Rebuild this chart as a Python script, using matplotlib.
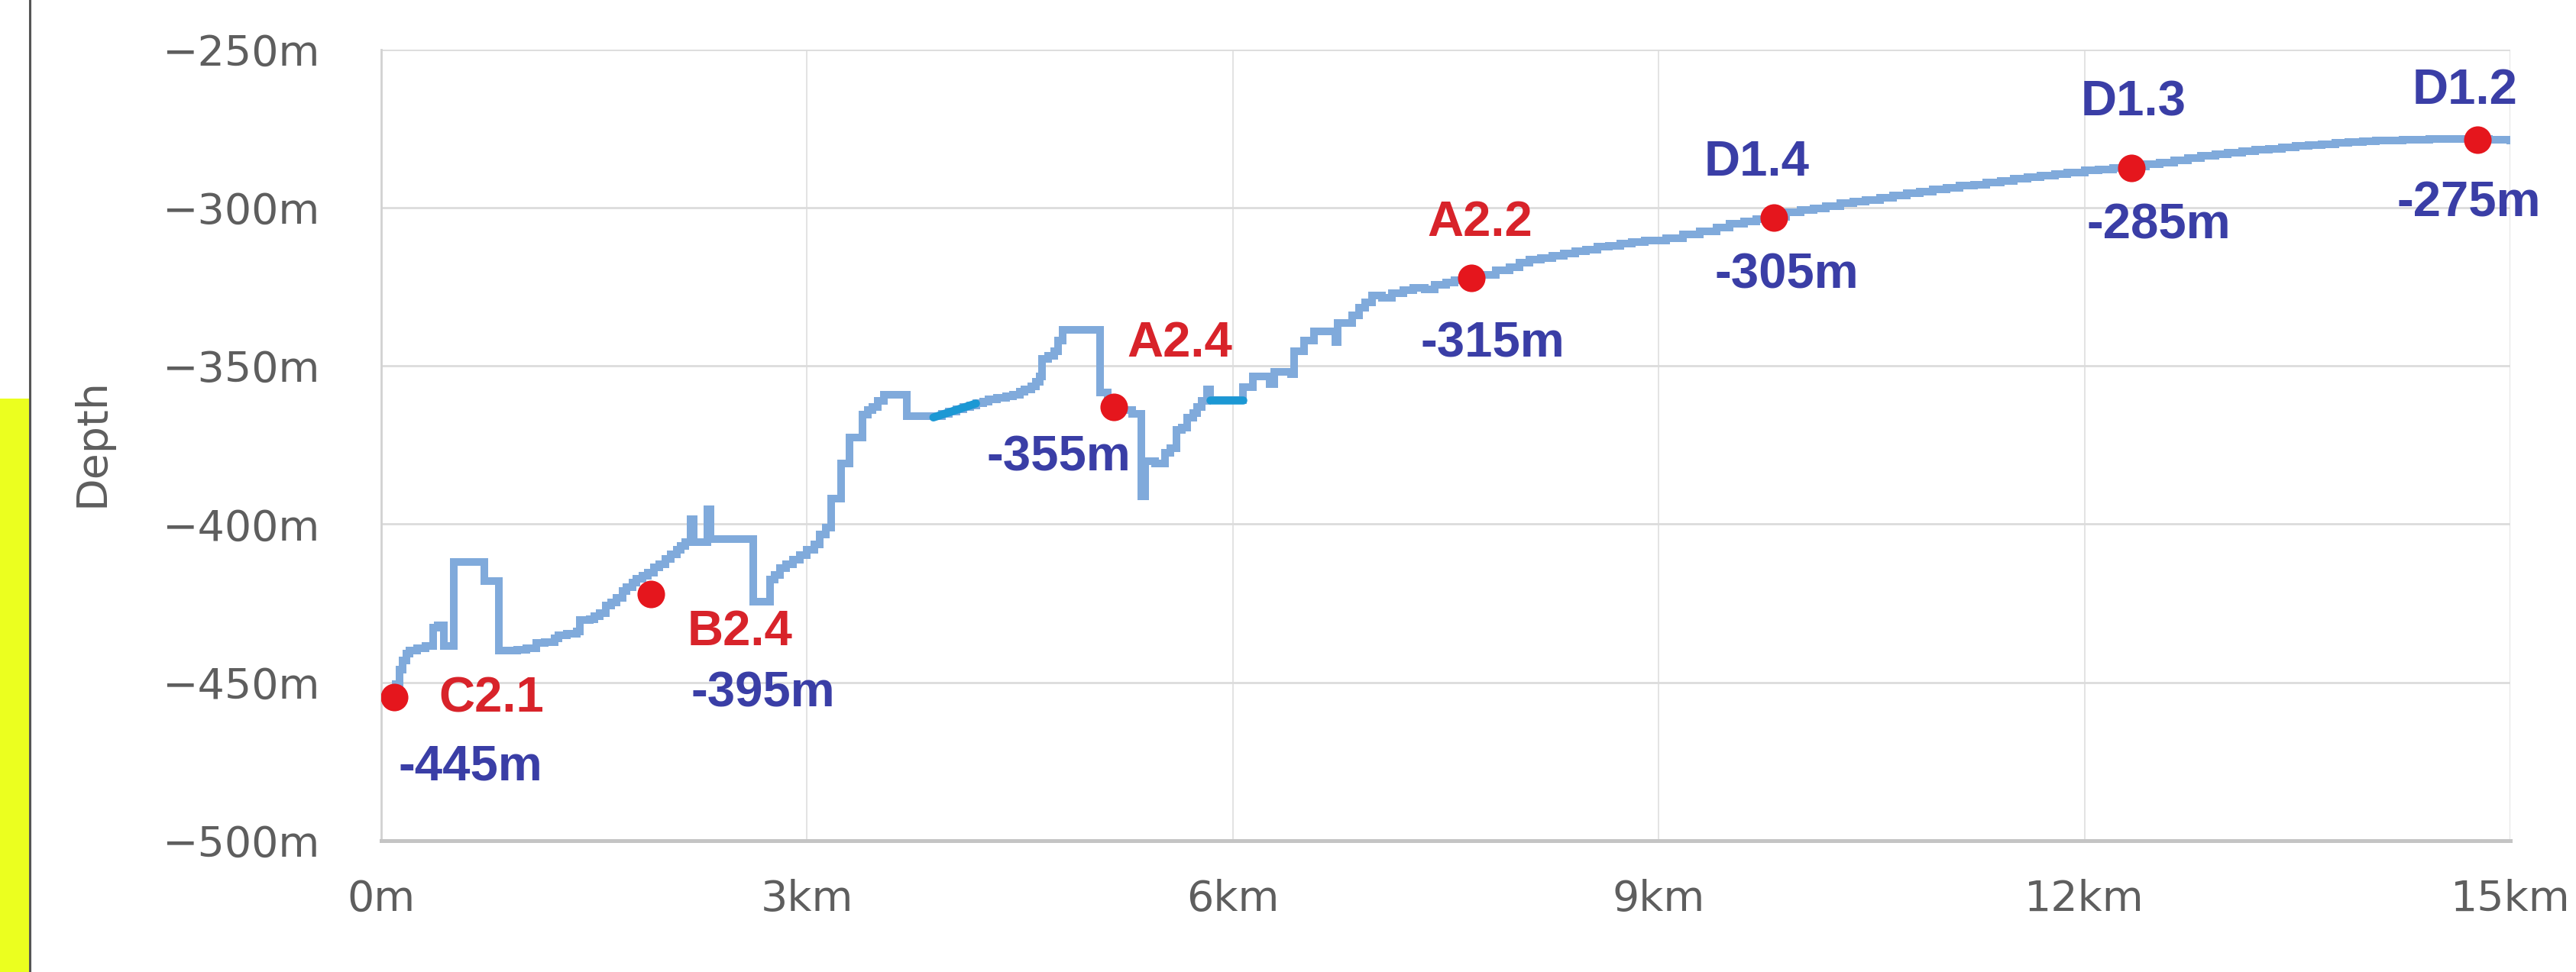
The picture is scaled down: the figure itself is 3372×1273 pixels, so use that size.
import matplotlib.pyplot as plt
from matplotlib.lines import Line2D
from matplotlib.patches import Rectangle

profile_km = [0.10, 0.13, 0.15, 0.18, 0.20, 0.25, 0.31, 0.365, 0.40, 0.44,
              0.51, 0.725, 0.83, 0.96, 1.02, 1.09, 1.15, 1.22, 1.25, 1.31,
              1.38, 1.40, 1.47, 1.50, 1.54, 1.58, 1.62, 1.66, 1.70, 1.73,
              1.77, 1.80, 1.84, 1.88, 1.92, 1.96, 2.00, 2.04, 2.08, 2.11,
              2.14, 2.18, 2.20, 2.30, 2.32, 2.62, 2.74, 2.77, 2.81, 2.85,
              2.90, 2.95, 3.00, 3.05, 3.09, 3.13, 3.17, 3.24, 3.30, 3.39,
              3.43, 3.46, 3.50, 3.54, 3.70, 3.89, 3.95, 4.00, 4.05, 4.10,
              4.15, 4.19, 4.24, 4.28, 4.34, 4.40, 4.45, 4.50, 4.53, 4.58,
              4.61, 4.64, 4.655, 4.70, 4.74, 4.77, 4.80, 5.067, 5.12, 5.20,
              5.29, 5.355, 5.38, 5.45, 5.52, 5.56, 5.60, 5.64, 5.68, 5.72,
              5.75, 5.78, 5.82, 5.84, 6.07, 6.09, 6.14, 6.26, 6.29, 6.41,
              6.43, 6.50, 6.57, 6.72, 6.74, 6.84, 6.89, 6.93, 6.98, 7.05,
              7.12, 7.20, 7.27, 7.35, 7.42, 7.50, 7.56, 7.65, 7.74, 7.85,
              7.95, 8.02, 8.09, 8.17, 8.25, 8.33, 8.41, 8.49, 8.57, 8.65,
              8.73, 8.81, 8.90, 9.05, 9.17, 9.29, 9.41, 9.50, 9.60, 9.69,
              9.80, 9.90, 10.00, 10.09, 10.18, 10.28, 10.37, 10.46, 10.56, 10.65,
              10.75, 10.84, 10.93, 11.03, 11.12, 11.22, 11.31, 11.41, 11.50, 11.60,
              11.69, 11.79, 11.88, 12.00, 12.10, 12.20, 12.33, 12.43, 12.53, 12.63,
              12.73, 12.82, 12.92, 13.01, 13.11, 13.20, 13.30, 13.39, 13.49, 13.58,
              13.67, 13.77, 13.86, 13.96, 14.05, 14.14, 14.24, 14.33, 14.43, 14.52,
              14.70, 14.85, 15.00]
profile_depth = [-450.5, -446.0, -443.0, -441.0, -440.0, -439.2, -438.4, -432.8, -432.0, -438.4,
                 -412.0, -418.0, -440.0, -439.6, -439.2, -437.6, -437.2, -436.0, -435.2, -434.6,
                 -434.0, -430.4, -430.0, -429.0, -428.2, -425.6, -424.8, -423.2, -421.2, -420.0,
                 -418.4, -417.2, -416.4, -415.4, -413.6, -412.6, -411.0, -409.6, -408.0, -406.8,
                 -405.6, -398.4, -405.6, -395.2, -404.8, -424.4, -417.6, -416.0, -414.0, -412.6,
                 -411.2, -409.8, -408.0, -406.4, -403.3, -401.0, -392.0, -380.8, -372.7, -365.5,
                 -364.0, -363.1, -361.0, -359.1, -365.9, -366.0, -365.2, -364.5, -363.8, -363.0,
                 -362.4, -361.9, -361.2, -360.7, -360.2, -359.6, -359.1, -358.2, -357.5, -356.4,
                 -355.0, -353.4, -347.8, -346.8, -345.4, -342.0, -338.6, -358.3, -362.0, -364.0,
                 -365.1, -391.2, -380.0, -380.8, -377.5, -375.9, -370.3, -369.5, -366.3, -365.0,
                 -363.1, -361.0, -357.5, -360.8, -356.7, -356.7, -353.4, -355.8, -351.8, -352.6,
                 -345.4, -342.0, -339.0, -342.6, -336.5, -334.0, -331.7, -330.0, -327.7, -328.5,
                 -327.0, -326.0, -325.3, -325.8, -324.5, -323.6, -322.9, -322.3, -321.2, -319.7,
                 -318.8, -317.4, -316.5, -316.0, -315.2, -314.5, -313.8, -313.2, -312.4, -312.0,
                 -311.3, -310.8, -310.4, -309.6, -308.4, -307.5, -306.3, -305.2, -304.5, -303.6,
                 -303.0, -301.5, -300.8, -300.2, -299.6, -298.7, -298.2, -297.6, -297.0, -296.2,
                 -295.4, -295.0, -294.3, -293.8, -293.1, -292.7, -292.2, -291.5, -290.9, -290.5,
                 -289.9, -289.5, -288.9, -288.3, -287.9, -287.6, -287.1, -286.4, -285.9, -285.1,
                 -284.3, -283.6, -283.2, -282.7, -282.3, -281.8, -281.5, -281.1, -280.6, -280.3,
                 -279.9, -279.5, -279.3, -279.0, -278.9, -278.7, -278.6, -278.5, -278.4, -278.3,
                 -278.4, -278.6, -278.7]

# two short highlighted pieces of the route
highlight_km = [[3.89, 4.19], [5.84, 6.07]]
highlight_depth = [[-366.3, -361.9], [-360.8, -360.8]]

# stations
station_names = ['C2.1', 'B2.4', 'A2.4', 'A2.2', 'D1.4', 'D1.3', 'D1.2']
station_km = [0.09, 1.90, 5.16, 7.68, 9.81, 12.33, 14.77]
station_depth = [-454.6, -422.1, -363.0, -322.3, -303.2, -287.6, -278.6]
station_labels = ['-445m', '-395m', '-355m', '-315m', '-305m', '-285m', '-275m']

x_ticks = [0, 3, 6, 9, 12, 15]
x_tick_labels = ['0m', '3km', '6km', '9km', '12km', '15km']
y_ticks = [-500, -450, -400, -350, -300, -250]
y_tick_labels = ['\u2212500m', '\u2212450m', '\u2212400m', '\u2212350m', '\u2212300m', '\u2212250m']

# label styling (offsets in points from each dot)
RED = '#D8232A'
BLUE = '#3A3EA6'
name_colors = [RED, RED, RED, RED, BLUE, BLUE, BLUE]
name_offsets = [(46, -1), (42, -18), (31, 30), (4, 26), (-8, 26), (1, 31), (-6, 23)]
value_offsets = [(36, -33), (53, -47), (-26, -24), (10, -31), (6, -27), (13, -27), (-4, -30)]

fig = plt.figure(figsize=(16.86, 6.365), dpi=200)
ax = fig.add_axes([0.148, 0.1351, 0.8265, 0.8142])

# yellow strip and dark rule at the left edge
fig.patches.append(Rectangle((0, 0), 0.0113, 0.59, transform=fig.transFigure,
                             facecolor='#EBFF1F', edgecolor='none', zorder=0))
fig.add_artist(Line2D([0.0117, 0.0117], [0, 1], transform=fig.transFigure,
                      color='#555555', lw=1.1))

ax.plot(profile_km, profile_depth, drawstyle='steps-post', color='#80AADB',
        lw=3.6, solid_joinstyle='miter', zorder=2)
for hx, hy in zip(highlight_km, highlight_depth):
    ax.plot(hx, hy, color='#1C98D4', lw=3.8, solid_capstyle='round', zorder=3)

ax.plot(station_km, station_depth, 'o', color='#E5161D', markersize=13,
        markeredgewidth=0, zorder=4)

for i in range(len(station_names)):
    ax.annotate(station_names[i], (station_km[i], station_depth[i]),
                xytext=name_offsets[i], textcoords='offset points',
                ha='center', va='center', fontsize=23.5, fontweight='bold',
                family='Liberation Sans', color=name_colors[i], zorder=5)
    ax.annotate(station_labels[i], (station_km[i], station_depth[i]),
                xytext=value_offsets[i], textcoords='offset points',
                ha='center', va='center', fontsize=23.5, fontweight='bold',
                family='Liberation Sans', color=BLUE, zorder=5)

ax.set_xlim(0, 15)
ax.set_ylim(-500, -250)
ax.set_xticks(x_ticks)
ax.set_xticklabels(x_tick_labels)
ax.set_yticks(y_ticks)
ax.set_yticklabels(y_tick_labels)
ax.tick_params(length=0, labelsize=20, labelcolor='#5E5E5E')
ax.tick_params(axis='y', pad=29)
ax.tick_params(axis='x', pad=18)

ax.set_ylabel('Depth', fontsize=20, color='#5E5E5E', va='center')
ax.yaxis.set_label_coords(-0.136, 0.503)

ax.grid(axis='y', color='#DCDCDC', lw=1.0)
ax.grid(axis='x', color='#E3E3E3', lw=0.7)
ax.set_axisbelow(True)
for side in ['top', 'right']:
    ax.spines[side].set_visible(False)
ax.spines['left'].set_color('#D2D2D2')
ax.spines['left'].set_linewidth(1.0)
ax.spines['bottom'].set_color('#C4C4C4')
ax.spines['bottom'].set_linewidth(1.8)

fig.savefig('out.png', dpi=200, facecolor='white')
